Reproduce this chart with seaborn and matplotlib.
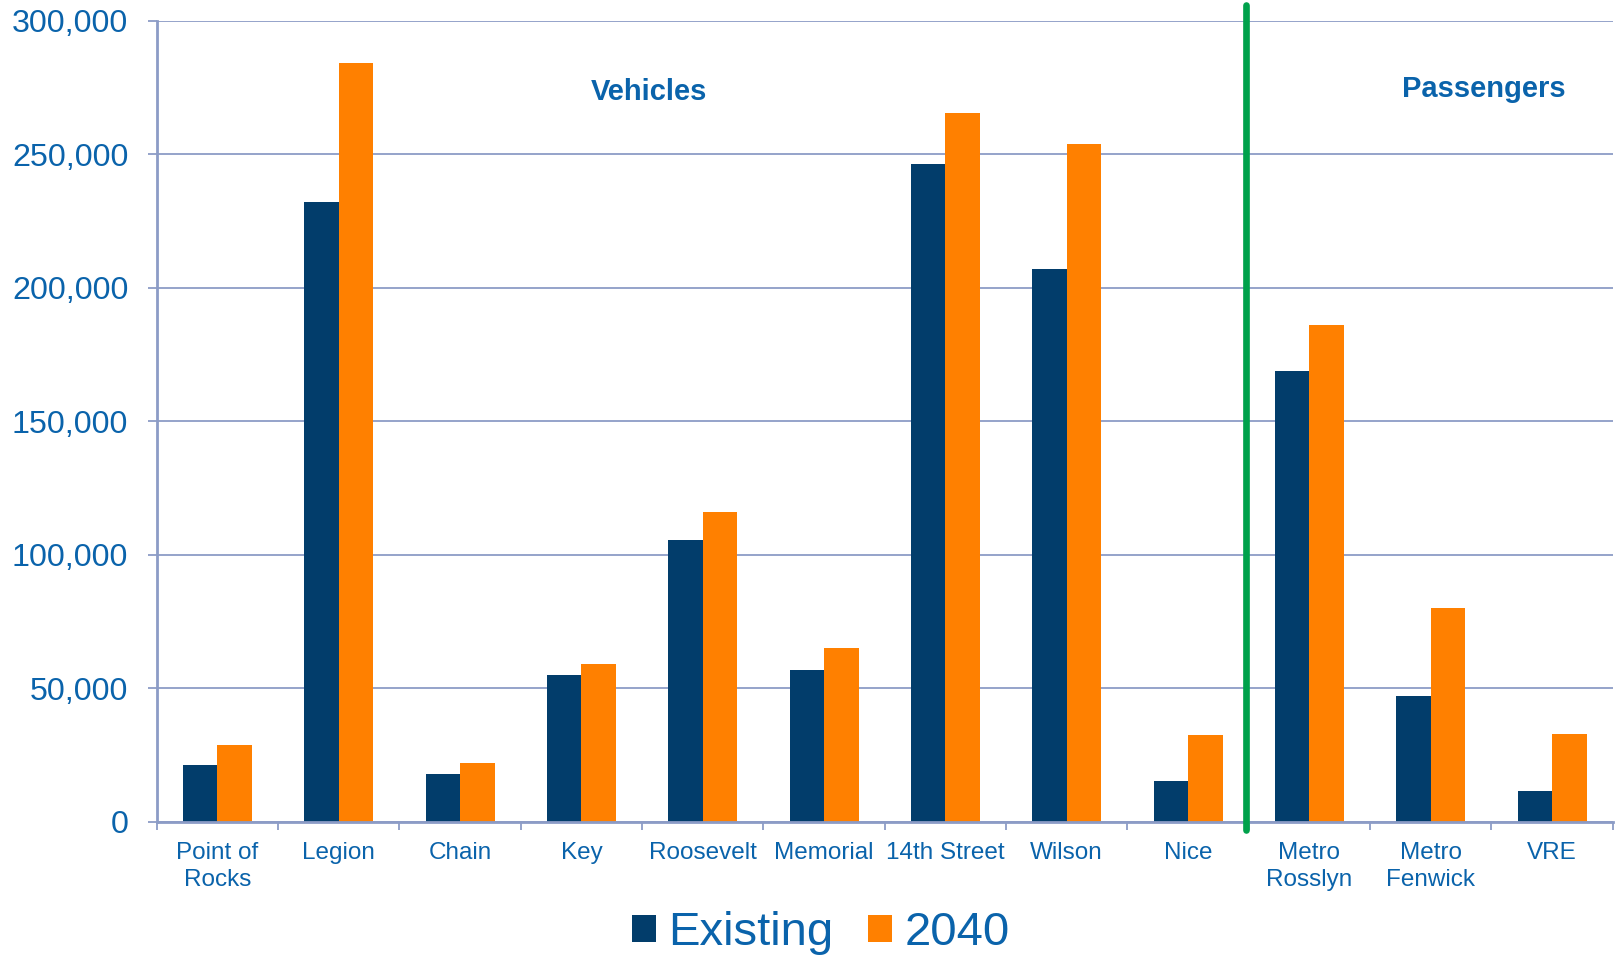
import matplotlib
matplotlib.use("Agg")
import matplotlib.pyplot as plt
from matplotlib.patches import Patch
import seaborn as sns
import pandas as pd
import numpy as np

categories = ["Point of\nRocks", "Legion", "Chain", "Key", "Roosevelt", "Memorial",
              "14th Street", "Wilson", "Nice", "Metro\nRosslyn", "Metro\nFenwick", "VRE"]
existing = [21500, 232000, 18000, 55000, 105500, 57000, 246500, 207000, 15500, 169000, 47000, 11500]
y2040 = [29000, 284000, 22000, 59000, 116000, 65000, 265500, 254000, 32500, 186000, 80000, 33000]
series = ["Existing", "2040"]
yticks = [0, 50000, 100000, 150000, 200000, 250000, 300000]
section_labels = ["Vehicles", "Passengers"]

navy = "#023D6B"
orange = "#FF8000"
blue = "#0A63AB"
gridc = "#8C9CC6"
green = "#00A14B"

sns.set_style("white")
plt.rcParams['font.family'] = ['Liberation Sans', 'DejaVu Sans']

df = pd.DataFrame({
    "Location": categories * 2,
    "Series": [series[0]] * len(categories) + [series[1]] * len(categories),
    "Count": existing + y2040,
})

fig = plt.figure(figsize=(16.16, 9.56), dpi=100)
ax = fig.add_axes([0.097, 0.1402, 0.901, 0.8381])

sns.barplot(data=df, x="Location", y="Count", hue="Series", hue_order=series,
            order=categories, palette={series[0]: navy, series[1]: orange},
            width=0.57, gap=0, errorbar=None, saturation=1, ax=ax,
            linewidth=0, zorder=2)

ax.set_xlim(-0.5, len(categories) - 0.5)
ax.set_ylim(0, 300000)
ax.set_axisbelow(True)
ax.yaxis.grid(True, color=gridc, lw=1.3)
ax.xaxis.grid(False)
for s in ["top", "right"]:
    ax.spines[s].set_visible(False)
for s in ["left", "bottom"]:
    ax.spines[s].set_color(gridc)
    ax.spines[s].set_linewidth(2)

ax.set_yticks(yticks)
ax.set_yticklabels([f"{v:,}" for v in yticks])
ax.tick_params(axis='y', direction='out', length=6.5, width=1.3, color=gridc,
               labelsize=23.2, labelcolor=blue, pad=14, left=True)

ax.set_xticks(range(len(categories)))
ax.set_xticklabels(categories)
ax.tick_params(axis='x', which='major', length=0, pad=14.5, labelsize=17.5, labelcolor=blue)
ax.set_xticks(np.arange(-0.5, len(categories), 1), minor=True)
ax.tick_params(axis='x', which='minor', direction='out', length=6, width=1.3,
               color=gridc, bottom=True)
for t in ax.get_xticklabels():
    t.set_linespacing(1.27)

ax.set_xlabel("")
ax.set_ylabel("")
if ax.get_legend() is not None:
    ax.get_legend().remove()

ax.axvline(8.48, ymin=-0.01, ymax=1.0196, color=green, lw=4.8, clip_on=False, zorder=3)

ax.text(3.556, 270300, section_labels[0], ha='center', va='baseline', fontsize=21,
        fontweight='bold', color=blue)
ax.text(10.44, 271500, section_labels[1], ha='center', va='baseline', fontsize=21,
        fontweight='bold', color=blue)

handles = [Patch(facecolor=navy, edgecolor='none'), Patch(facecolor=orange, edgecolor='none')]
fig.legend(handles, series, loc='center', bbox_to_anchor=(0.508, 0.024), ncol=2,
           frameon=False, fontsize=34, handlelength=0.51, handleheight=0.51,
           handletextpad=0.25, columnspacing=0.74, labelcolor=blue)

fig.savefig("out.png", dpi=100)
